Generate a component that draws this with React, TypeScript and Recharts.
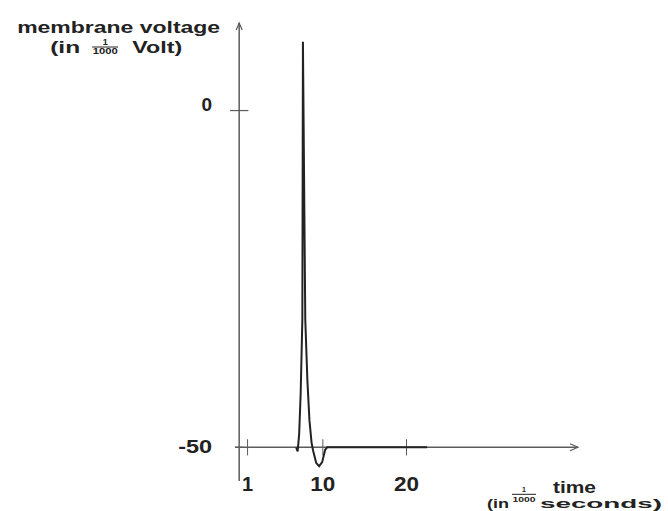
import { LineChart, Line, XAxis, YAxis, ReferenceLine } from "recharts";

// time in 1/1000 s, membrane voltage in 1/1000 V
const TIME = [6.81, 6.99, 7.17, 7.35, 7.55, 7.62, 7.9, 8.15, 8.4, 8.65, 8.84, 9.2, 9.56, 9.92, 10.27, 10.51, 22.46];
const VOLTAGE = [-50, -50.6, -48, -42, -31, 10.2, -31, -40, -46, -49.3, -50.5, -52.3, -52.8, -52.2, -50.4, -50, -50];

const X_TICKS = [1, 10, 20];
const Y_TICKS = [0, -50];
const X_DOMAIN: [number, number] = [-0.5, 40.5];
const Y_DOMAIN: [number, number] = [-55, 13];
const BASELINE = -50;

const Y_TITLE = { main: "membrane voltage", pre: "(in", num: "1", den: "1000", post: "Volt)" };
const X_TITLE = { main: "time", pre: "(in", num: "1", den: "1000", post: "seconds)" };

const data = TIME.map((t, i) => ({ t, v: VOLTAGE[i] }));

const INK = "#222";
const AXIS = "#5c5c5c";
const FONT = "'Liberation Sans', Arial, sans-serif";

const txt = (x: number, y: number, s: string, size: number, len?: number, anchor = "start") => (
  <text
    x={x}
    y={y}
    fontFamily={FONT}
    fontWeight="bold"
    fontSize={size}
    fill={INK}
    textAnchor={anchor}
    {...(len ? { textLength: len, lengthAdjust: "spacingAndGlyphs" } : {})}
  >
    {s}
  </text>
);

// y axis: line with arrow at top, title to its upper left
function YAxisShape(p: any) {
  const x = p.x1;
  const top = Math.min(p.y1, p.y2);
  const bottom = Math.max(p.y1, p.y2);
  return (
    <g>
      <line x1={x} y1={bottom} x2={x} y2={top} stroke={AXIS} strokeWidth={1.5} />
      <path d={`M${x - 3},${top + 7} L${x},${top} L${x + 3},${top + 7}`} fill="none" stroke={AXIS} strokeWidth={1.2} />
      {txt(x - 222, top + 10, Y_TITLE.main, 17, 203)}
      {txt(x - 189, top + 30, Y_TITLE.pre, 17, 30)}
      {txt(x - 134, top + 22, Y_TITLE.num, 9, undefined, "middle")}
      <line x1={x - 147} y1={top + 24} x2={x - 121} y2={top + 24} stroke={INK} strokeWidth={1} />
      {txt(x - 134, top + 31, Y_TITLE.den, 9, 25, "middle")}
      {txt(x - 107, top + 30, Y_TITLE.post, 17, 50)}
    </g>
  );
}

// x axis: line with arrow at right, title below its right end
function XAxisShape(p: any) {
  const y = p.y1;
  const left = Math.min(p.x1, p.x2);
  const right = Math.max(p.x1, p.x2);
  return (
    <g>
      <line x1={left} y1={y} x2={right} y2={y} stroke={AXIS} strokeWidth={1.5} />
      <path d={`M${right - 8},${y - 3.5} L${right},${y} L${right - 8},${y + 3.5}`} fill="none" stroke={AXIS} strokeWidth={1.2} />
      {txt(right - 25, y + 46, X_TITLE.main, 16, 43)}
      {txt(right - 91, y + 61, X_TITLE.pre, 13, 22)}
      {txt(right - 54, y + 45, X_TITLE.num, 7, undefined, "middle")}
      <line x1={right - 66} y1={y + 47} x2={right - 42} y2={y + 47} stroke={INK} strokeWidth={1} />
      {txt(right - 54, y + 55, X_TITLE.den, 7, 23, "middle")}
      {txt(right - 38, y + 61, X_TITLE.post, 13, 122)}
    </g>
  );
}

const xTickShape = (label: string) => (p: any) => {
  const x = p.x1;
  const bottom = Math.max(p.y1, p.y2);
  return (
    <g>
      <line x1={p.x1} y1={p.y1} x2={p.x2} y2={p.y2} stroke={AXIS} strokeWidth={1} />
      {txt(x, bottom + 36, label, 20, label.length > 1 ? 25 : undefined, "middle")}
    </g>
  );
};

const yTickShape = (label: string, dy: number) => (p: any) => {
  const axisX = (p.x1 + p.x2) / 2;
  return (
    <g>
      <line x1={p.x1} y1={p.y1} x2={p.x2} y2={p.y2} stroke={AXIS} strokeWidth={1.2} />
      {txt(axisX - 27, p.y1 + dy, label, 19, label.length > 1 ? 34 : undefined, "end")}
    </g>
  );
};

export default function App() {
  return (
    <div style={{ position: "absolute", left: 0, top: 0, background: "#fff" }}>
      <LineChart width={668} height={511} data={data} margin={{ top: 23, right: 90, bottom: 30, left: 235 }}>
        <XAxis dataKey="t" type="number" domain={X_DOMAIN} allowDataOverflow hide />
        <YAxis type="number" domain={Y_DOMAIN} allowDataOverflow hide />

        <ReferenceLine
          segment={[{ x: X_DOMAIN[0], y: BASELINE }, { x: X_DOMAIN[1], y: BASELINE }]}
          shape={XAxisShape}
          ifOverflow="visible"
        />
        <ReferenceLine
          segment={[{ x: 0, y: Y_DOMAIN[0] }, { x: 0, y: Y_DOMAIN[1] }]}
          shape={YAxisShape}
          ifOverflow="visible"
        />

        {X_TICKS.map((t) => (
          <ReferenceLine
            key={`xt${t}`}
            segment={[{ x: t, y: BASELINE + 1.2 }, { x: t, y: BASELINE - 1.2 }]}
            shape={xTickShape(String(t))}
            ifOverflow="visible"
          />
        ))}
        {Y_TICKS.map((v) => (
          <ReferenceLine
            key={`yt${v}`}
            segment={v === 0 ? [{ x: -1.1, y: v }, { x: 1.1, y: v }] : [{ x: -0.5, y: v }, { x: 0.5, y: v }]}
            shape={yTickShape(String(v), v === 0 ? 0 : 6)}
            ifOverflow="visible"
          />
        ))}

        <Line
          type="linear"
          dataKey="v"
          stroke={INK}
          strokeWidth={2}
          dot={false}
          isAnimationActive={false}
        />
      </LineChart>
    </div>
  );
}
